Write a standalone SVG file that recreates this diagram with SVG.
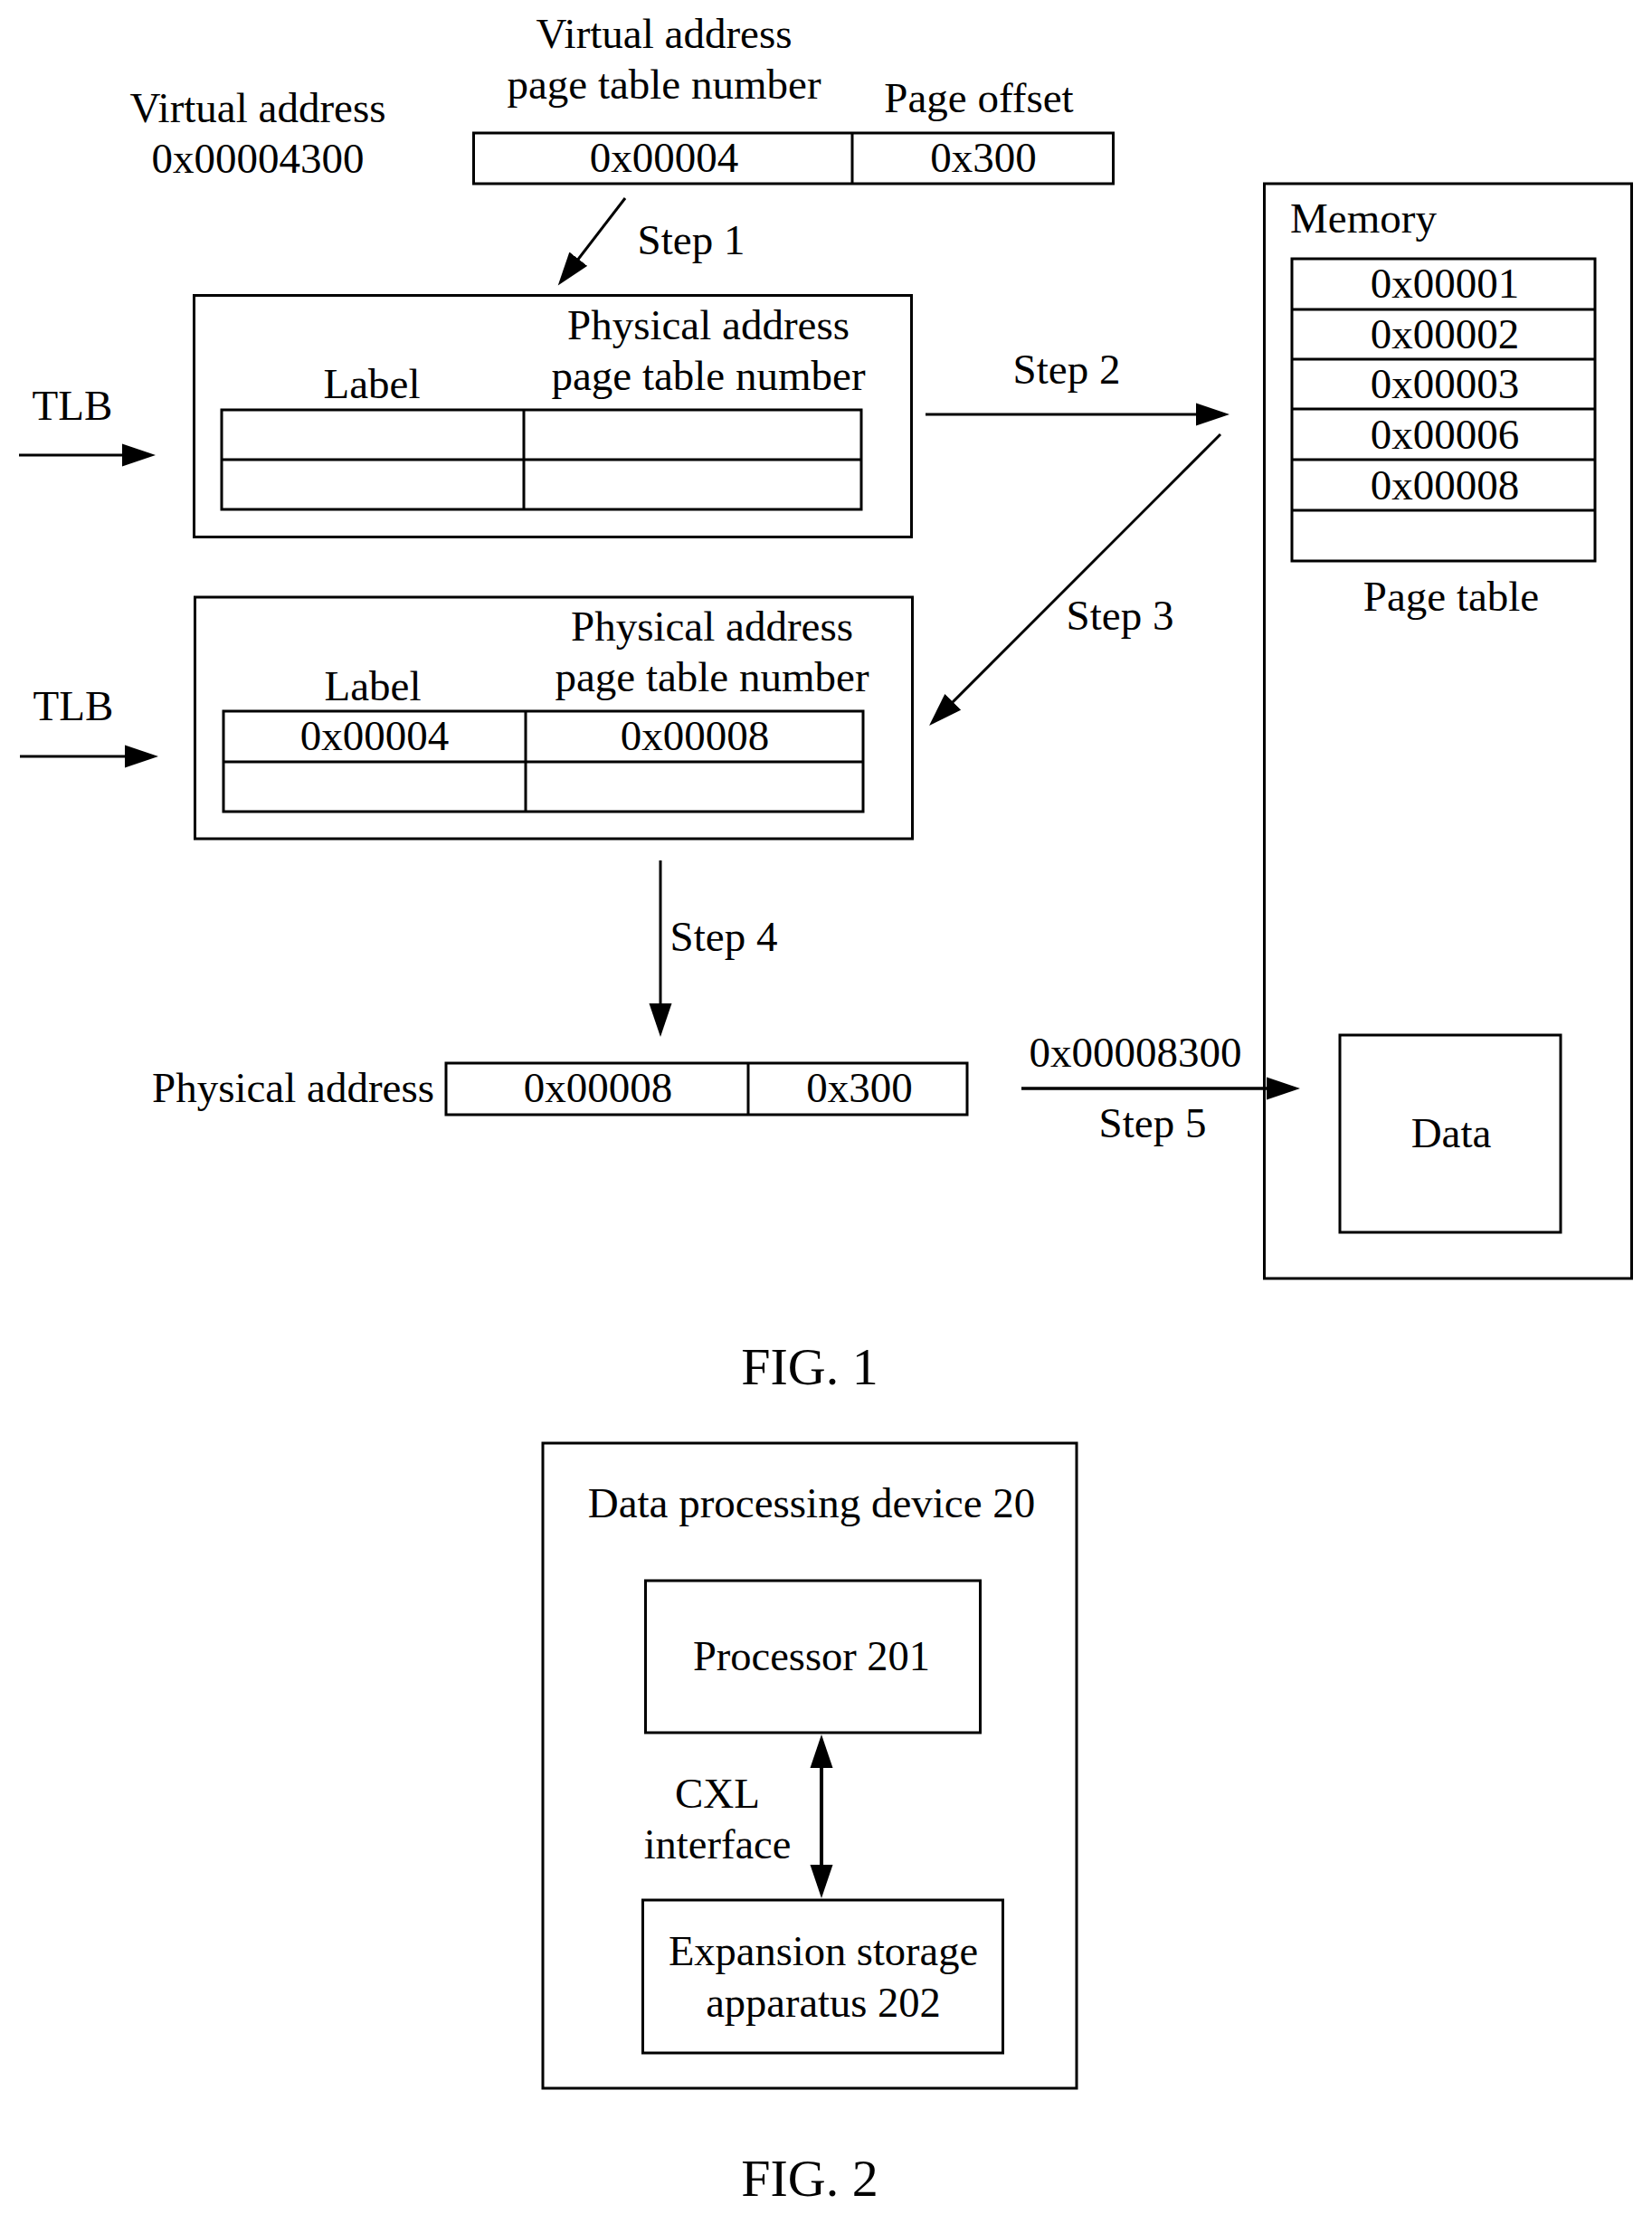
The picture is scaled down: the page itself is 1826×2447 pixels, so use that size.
<svg xmlns="http://www.w3.org/2000/svg" width="1826" height="2447" viewBox="0 0 1826 2447">
<defs>
<style>
text{font-family:"Liberation Serif","Times New Roman",serif;font-size:47px;fill:#000;text-anchor:middle}
.big{font-size:58px}
.f2{font-size:46.500px}
.b{fill:#fff;stroke:#000;stroke-width:3}
.d{fill:none;stroke:#000;stroke-width:3}
.c{fill:none;stroke:#000;stroke-width:3;marker-end:url(#ah)}
</style>
<marker id="ah" markerUnits="userSpaceOnUse" markerWidth="40" markerHeight="28" refX="30" refY="13" orient="auto-start-reverse"><path d="M0 0.500L37 13L0 25.500Z" fill="#000"/></marker>
</defs>
<rect width="1826" height="2447" fill="#fff"/>
<g id="virtual-address-label"><text x="285" y="135">Virtual address</text><text x="285" y="191">0x00004300</text></g>
<g id="virtual-address-fields">
<text x="734" y="53">Virtual address</text><text x="734" y="109">page table number</text><text x="1082" y="124">Page offset</text>
<rect class="b" x="523.500" y="147" width="707" height="56"/><path class="d" d="M942 147V203"/>
<text x="734" y="190">0x00004</text><text x="1087" y="190">0x300</text></g>
<g id="tlb-1"><text x="80" y="464">TLB</text>
<rect class="b" x="214.500" y="326.500" width="793" height="267"/>
<text x="783" y="375">Physical address</text><text x="783" y="431">page table number</text><text x="411" y="440">Label</text>
<rect class="b" x="245" y="453" width="707" height="110"/><path class="d" d="M245 508H952M579 453V563"/></g>
<g id="tlb-2"><text x="81" y="796">TLB</text>
<rect class="b" x="215.500" y="660" width="793" height="267"/>
<text x="787" y="708">Physical address</text><text x="787" y="764">page table number</text><text x="412" y="774">Label</text>
<rect class="b" x="247" y="786" width="707" height="111"/><path class="d" d="M247 842H954M581 786V897"/>
<text x="414" y="829">0x00004</text><text x="768" y="829">0x00008</text></g>
<g id="physical-address"><text x="324" y="1218">Physical address</text>
<rect class="b" x="493" y="1175" width="576" height="57"/><path class="d" d="M827 1175V1232"/>
<text x="661" y="1218">0x00008</text><text x="950" y="1218">0x300</text></g>
<g id="memory"><rect class="b" x="1397.500" y="203" width="406" height="1210"/>
<text x="1507" y="257">Memory</text>
<g id="page-table"><rect class="b" x="1428" y="286" width="335" height="334"/>
<path class="d" d="M1428 342H1763M1428 397H1763M1428 452H1763M1428 508H1763M1428 564H1763"/>
<text x="1597" y="329">0x00001</text><text x="1597" y="385">0x00002</text><text x="1597" y="440">0x00003</text><text x="1597" y="496">0x00006</text><text x="1597" y="552">0x00008</text>
<text x="1604" y="675">Page table</text></g>
<g id="data"><rect class="b" x="1481" y="1144" width="244" height="218"/><text x="1604" y="1268">Data</text></g></g>
<text x="764" y="281">Step 1</text><text x="1179" y="424">Step 2</text><text x="1238" y="696">Step 3</text><text x="800" y="1051">Step 4</text>
<text x="1255" y="1179">0x00008300</text><text x="1274" y="1257">Step 5</text>
<text class="big" x="895" y="1530">FIG. 1</text>
<g id="device-20"><rect class="b" x="600" y="1595" width="590" height="713"/><text x="897" y="1677">Data processing device 20</text>
<g id="processor-201"><rect class="b" x="713.500" y="1747" width="370" height="168"/><text class="f2" x="897" y="1846">Processor 201</text></g>
<g id="expansion-202"><rect class="b" x="710.500" y="2100" width="398" height="169"/><text class="f2" x="910" y="2172">Expansion storage</text><text class="f2" x="910" y="2229">apparatus 202</text></g>
<text x="793" y="1998">CXL</text><text class="f2" x="793" y="2054">interface</text></g>
<text class="big" x="895" y="2427">FIG. 2</text>
<g id="connectors">
<path class="c" d="M691 219L621 310"/>
<path class="c" d="M21 503H165"/>
<path class="c" d="M1023 458H1352"/>
<path class="c" d="M1349 480L1032 797"/>
<path class="c" d="M22 836H168"/>
<path class="c" d="M730 951V1139"/>
<path class="c" style="stroke-width:3.500" d="M1129 1203H1430"/>
<path class="c" style="marker-start:url(#ah);stroke-width:4" d="M908 1924V2091"/>
</g>
</svg>
